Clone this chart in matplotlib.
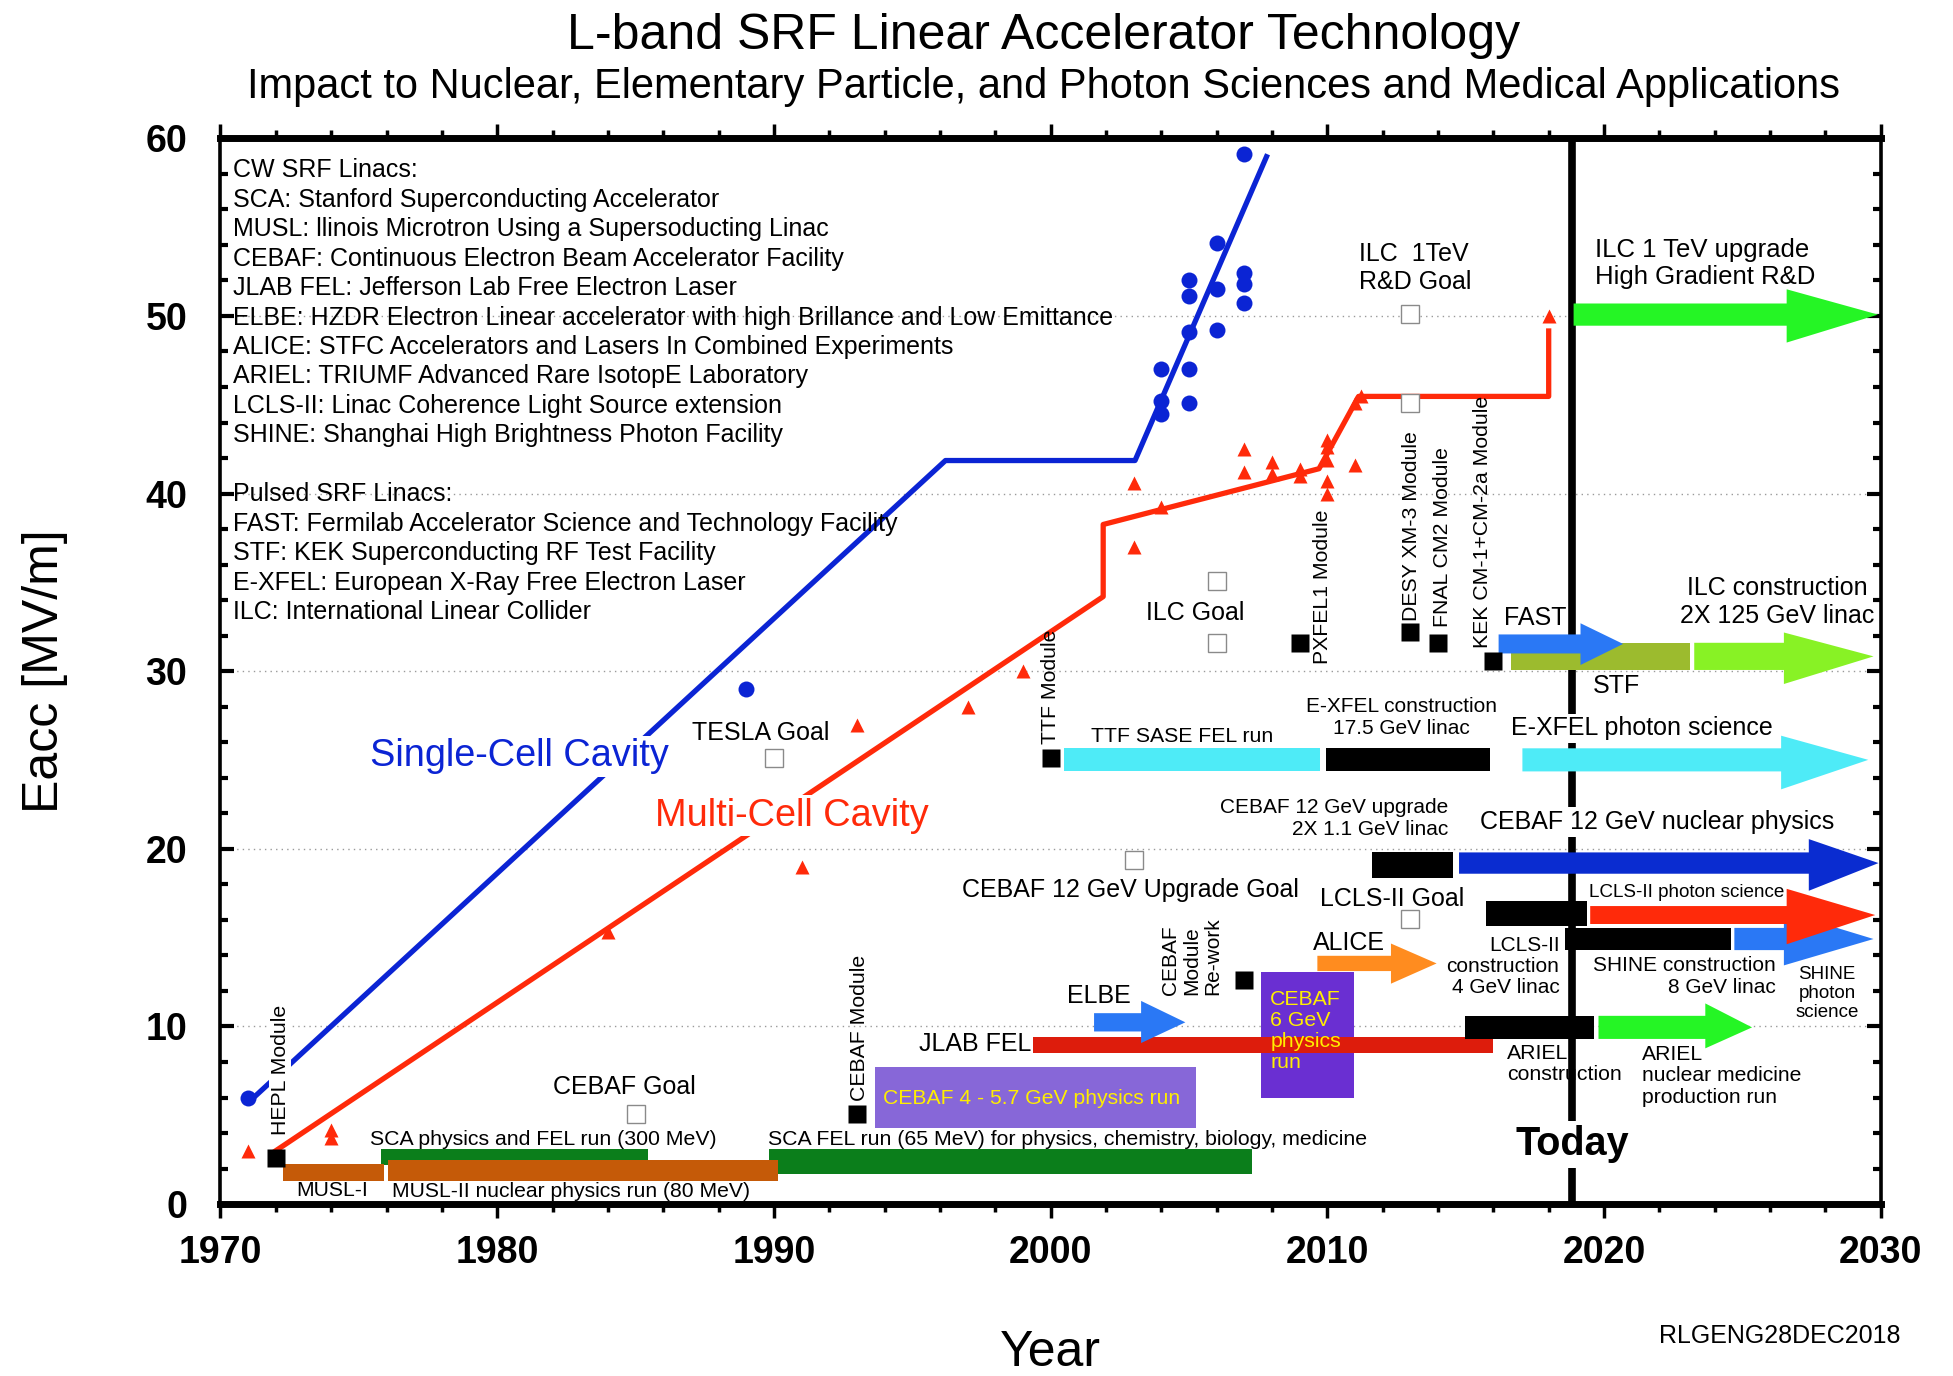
import matplotlib
matplotlib.use('Agg')
import matplotlib.pyplot as plt
from matplotlib.patches import Rectangle, Polygon
from matplotlib.ticker import MultipleLocator

plt.rcParams['font.family'] = ['Liberation Sans', 'DejaVu Sans']

# ---------------- data ----------------
single_line_x = [1971.2, 1996.2, 2003.05, 2007.84]
single_line_y = [6.0, 41.86, 41.86, 59.1]
multi_line_x = [1971.8, 2001.9, 2001.9, 2009.7, 2011.13, 2018.0, 2018.0]
multi_line_y = [2.8, 34.2, 38.26, 41.4, 45.47, 45.47, 49.3]

single_x = [1971, 1989, 2004, 2004, 2004, 2005, 2005, 2005, 2005, 2005,
            2006, 2006, 2006, 2007, 2007, 2007, 2007]
single_y = [6.0, 29.0, 44.5, 45.2, 47.0, 45.1, 47.0, 49.1, 51.1, 52.0,
            49.2, 51.5, 54.1, 50.7, 51.8, 52.4, 59.1]

multi_x = [1971, 1974, 1974, 1984, 1991, 1993, 1997, 1999, 2003, 2003, 2004,
           2007, 2007, 2008, 2008, 2009, 2009, 2010, 2010, 2010, 2010, 2010,
           2011, 2011, 2011.2, 2018]
multi_y = [3.0, 3.75, 4.2, 15.3, 19.0, 27.0, 28.0, 30.0, 37.0, 40.6, 39.25,
           41.2, 42.5, 41.1, 41.8, 41.0, 41.4, 40.0, 40.7, 41.9, 42.6, 43.0,
           41.6, 45.1, 45.5, 50.0]

module_x = [1972, 1993, 2000, 2007, 2009, 2013, 2014, 2016]
module_y = [2.6, 5.1, 25.1, 12.6, 31.6, 32.2, 31.6, 30.6]

goal_x = [1985, 1990, 2003, 2006, 2006, 2013, 2013, 2013]
goal_y = [5.1, 25.1, 19.35, 35.1, 31.6, 50.1, 45.1, 16.05]

# horizontal bars: start year, end year, low Eacc, high Eacc
bar_names = ['SCA physics', 'SCA FEL', 'MUSL-I', 'MUSL-II', 'CEBAF 4-5.7',
             'CEBAF 6', 'JLAB FEL', 'ARIEL constr', 'LCLS-II constr',
             'SHINE constr', 'CEBAF 12 constr', 'TTF SASE', 'E-XFEL constr', 'STF']
bar_start = [1975.8, 1989.83, 1972.27, 1976.07, 1993.65, 2007.6, 1999.38, 2014.97,
             2015.75, 2018.6, 2011.62, 2000.47, 2009.97, 2016.62]
bar_end = [1985.44, 2007.29, 1975.9, 1990.15, 2005.27, 2010.98, 2016.0, 2019.63,
           2019.4, 2024.6, 2014.54, 2009.75, 2015.88, 2023.11]
bar_low = [2.18, 1.7, 1.28, 1.28, 4.3, 5.95, 8.53, 9.3, 15.67, 14.3, 18.36, 24.36, 24.36, 30.07]
bar_high = [3.1, 3.1, 2.28, 2.5, 7.7, 13.08, 9.41, 10.6, 17.06, 15.55, 19.8, 25.66, 25.7, 31.6]
bar_colors = ['#0B7E1B', '#0B7E1B', '#C55A08', '#C55A08', '#8767D8', '#6A2FD2',
              '#DD1C0C', '#000000', '#000000', '#000000', '#000000', '#4EEBF7',
              '#000000', '#9CBB2E']

# arrows: start, tip, shaft low/high, head start, head low/high
arrow_names = ['ELBE', 'ALICE', 'ARIEL NM', 'SHINE photon', 'LCLS-II photon',
               'CEBAF 12 NP', 'E-XFEL photon', 'ILC construction', 'FAST', 'ILC 1TeV']
arrow_start = [2001.57, 2009.64, 2019.8, 2024.71, 2019.5, 2014.76, 2017.05, 2023.26, 2016.19, 2018.9]
arrow_tip = [2004.87, 2013.95, 2025.35, 2029.74, 2029.8, 2029.92, 2029.55, 2029.74, 2020.69, 2029.9]
arrow_low = [9.72, 13.12, 9.3, 14.3, 15.77, 18.6, 24.36, 30.07, 31.0, 49.45]
arrow_high = [10.75, 13.98, 10.6, 15.55, 16.78, 19.8, 25.66, 31.6, 32.07, 50.7]
arrow_head_x = [2003.27, 2012.3, 2023.66, 2026.5, 2026.6, 2027.4, 2026.4, 2026.5, 2019.15, 2026.6]
arrow_head_low = [9.07, 12.41, 8.77, 13.44, 14.63, 17.64, 23.35, 29.28, 30.35, 48.5]
arrow_head_high = [11.44, 14.67, 11.3, 16.46, 17.75, 20.55, 26.37, 32.18, 32.7, 51.5]
arrow_colors = ['#2A78F5', '#FF8C1F', '#25F525', '#2A78F5', '#FF2A0A', '#0A2CD0',
                '#4EEBF7', '#88F225', '#2A78F5', '#25F525']

today_year = 2018.85

legend_lines = [
    "CW SRF Linacs:",
    "SCA: Stanford Superconducting Accelerator",
    "MUSL: llinois Microtron Using a Supersoducting Linac",
    "CEBAF: Continuous Electron Beam Accelerator Facility",
    "JLAB FEL: Jefferson Lab Free Electron Laser",
    "ELBE: HZDR Electron Linear accelerator with high Brillance and Low Emittance",
    "ALICE: STFC Accelerators and Lasers In Combined Experiments",
    "ARIEL: TRIUMF Advanced Rare IsotopE Laboratory",
    "LCLS-II: Linac Coherence Light Source extension",
    "SHINE: Shanghai High Brightness Photon Facility",
    "",
    "Pulsed SRF Linacs:",
    "FAST: Fermilab Accelerator Science and Technology Facility",
    "STF: KEK Superconducting RF Test Facility",
    "E-XFEL: European X-Ray Free Electron Laser",
    "ILC: International Linear Collider",
]

# ---------------- figure ----------------
fig = plt.figure(figsize=(19.53, 13.76), dpi=100)
ax = fig.add_axes([0.1129, 0.1249, 0.8501, 0.7746])
ax.set_xlim(1970, 2030)
ax.set_ylim(0, 60)

for gy in [10, 20, 30, 40, 50]:
    ax.axhline(gy, color='#9a9a9a', lw=1.0, ls=(0, (1, 3)), zorder=0)

# today line (behind bars)
ax.axvline(today_year, color='black', lw=5.5, zorder=1.8)

# bars
for s, e, lo, hi, c in zip(bar_start, bar_end, bar_low, bar_high, bar_colors):
    ax.add_patch(Rectangle((s, lo), e - s, hi - lo, facecolor=c, edgecolor='none', zorder=2))
# arrows
for s, t, lo, hi, hx, hlo, hhi, c in zip(arrow_start, arrow_tip, arrow_low, arrow_high,
                                          arrow_head_x, arrow_head_low, arrow_head_high, arrow_colors):
    mid = (lo + hi) / 2
    pts = [(s, lo), (hx, lo), (hx, hlo), (t, mid), (hx, hhi), (hx, hi), (s, hi)]
    ax.add_patch(Polygon(pts, closed=True, facecolor=c, edgecolor='none', zorder=2.5))

# trend lines
ax.plot(single_line_x, single_line_y, color='#0B24D4', lw=3.8, zorder=3, solid_capstyle='butt')
ax.plot(multi_line_x, multi_line_y, color='#FF2A0A', lw=3.8, zorder=3, solid_capstyle='butt')
ax.plot(single_x, single_y, 'o', color='#0B24D4', ms=11.5, mec='none', zorder=4)
ax.plot(multi_x, multi_y, '^', color='#FF2A0A', ms=10, mec='none', zorder=4)
ax.plot(module_x, module_y, 's', color='black', ms=13, mec='none', zorder=4)
ax.plot(goal_x, goal_y, 's', mfc='white', mec='#8a8a8a', mew=1.0, ms=13, zorder=4)

# ---------------- texts ----------------
for i, line in enumerate(legend_lines):
    ax.text(1970.45, 58.2 - i * 1.658, line, fontsize=18, va='center', ha='left', zorder=5)

wb = dict(facecolor='white', edgecolor='none', pad=2)
ax.text(1980.8, 25.2, 'Single-Cell Cavity', color='#0B24D4', fontsize=27.3, ha='center', va='center', bbox=wb, zorder=5)
ax.text(1990.66, 21.87, 'Multi-Cell Cavity', color='#FF2A0A', fontsize=27.3, ha='center', va='center', bbox=wb, zorder=5)

fs = 18
ax.text(1989.53, 26.5, 'TESLA Goal', fontsize=fs, ha='center', va='center', zorder=5)
ax.text(1984.58, 6.59, 'CEBAF Goal', fontsize=fs, ha='center', va='center', zorder=5)
ax.text(2002.9, 17.66, 'CEBAF 12 GeV Upgrade Goal', fontsize=fs, ha='center', va='center', zorder=5)
ax.text(2005.24, 33.3, 'ILC Goal', fontsize=fs, ha='center', va='center', zorder=5)
ax.text(2011.13, 52.7, 'ILC  1TeV\nR&D Goal', fontsize=fs, ha='left', va='center', linespacing=1.25, zorder=5)
ax.text(2019.69, 52.95, 'ILC 1 TeV upgrade\nHigh Gradient R&D', fontsize=18.5, ha='left', va='center', linespacing=1.2, zorder=5)
ax.text(2026.26, 33.9, 'ILC construction\n2X 125 GeV linac', fontsize=fs, ha='center', va='center', linespacing=1.2, zorder=5)
ax.text(2016.4, 33.0, 'FAST', fontsize=fs, ha='left', va='center', zorder=5)
ax.text(2020.46, 29.16, 'STF', fontsize=fs, ha='center', va='center', zorder=5)
ax.text(2021.36, 26.78, 'E-XFEL photon science', fontsize=18, ha='center', va='center', bbox=wb, zorder=5)
ax.text(2012.67, 27.37, 'E-XFEL construction\n17.5 GeV linac', fontsize=15, ha='center', va='center', linespacing=1.2, zorder=5)
ax.text(2004.75, 26.35, 'TTF SASE FEL run', fontsize=15.3, ha='center', va='center', zorder=5)
ax.text(2014.38, 21.7, 'CEBAF 12 GeV upgrade\n2X 1.1 GeV linac', fontsize=15, ha='right', va='center',
        multialignment='right', linespacing=1.2, zorder=5)
ax.text(2015.5, 21.5, 'CEBAF 12 GeV nuclear physics', fontsize=18, ha='left', va='center', bbox=wb, zorder=5)
ax.text(2012.35, 17.17, 'LCLS-II Goal', fontsize=18, ha='center', va='center', zorder=5)
ax.text(2019.47, 17.52, 'LCLS-II photon science', fontsize=13.6, ha='left', va='center', zorder=5)
ax.text(2018.39, 13.39, 'LCLS-II\nconstruction\n4 GeV linac', fontsize=15, ha='right', va='center',
        multialignment='right', linespacing=1.15, zorder=5)
ax.text(2026.22, 12.83, 'SHINE construction\n8 GeV linac', fontsize=15, ha='right', va='center',
        multialignment='right', linespacing=1.2, zorder=5)
ax.text(2028.06, 11.85, 'SHINE\nphoton\nscience', fontsize=13.5, ha='center', va='center', linespacing=1.15, zorder=5)
ax.text(2010.78, 14.72, 'ALICE', fontsize=18, ha='center', va='center', zorder=5)
ax.text(2001.73, 11.7, 'ELBE', fontsize=18, ha='center', va='center', zorder=5)
ax.text(1999.3, 9.04, 'JLAB FEL', fontsize=18, ha='right', va='center', zorder=5)
ax.text(2007.94, 9.74, 'CEBAF\n6 GeV\nphysics\nrun', fontsize=15.3, color='#FFEE00', ha='left', va='center',
        linespacing=1.15, zorder=5)
ax.text(1993.95, 5.96, 'CEBAF 4 - 5.7 GeV physics run', fontsize=15.2, color='#FFEE00', ha='left', va='center', zorder=5)
ax.text(2016.5, 7.89, 'ARIEL\nconstruction', fontsize=15.3, ha='left', va='center', linespacing=1.15, zorder=5)
ax.text(2021.36, 7.22, 'ARIEL\nnuclear medicine\nproduction run', fontsize=15.2, ha='left', va='center',
        linespacing=1.15, zorder=5)
ax.text(1975.4, 3.64, 'SCA physics and FEL run (300 MeV)', fontsize=15.3, ha='left', va='center', zorder=5)
ax.text(1989.8, 3.64, 'SCA FEL run (65 MeV) for physics, chemistry, biology, medicine', fontsize=15.3,
        ha='left', va='center', zorder=5)
ax.text(1972.75, 0.75, 'MUSL-I', fontsize=15.2, ha='left', va='center', zorder=5)
ax.text(1976.2, 0.7, 'MUSL-II nuclear physics run (80 MeV)', fontsize=15.2, ha='left', va='center', zorder=5)
ax.text(today_year, 3.36, 'Today', fontsize=28.5, fontweight='bold', ha='center', va='center',
        bbox=dict(facecolor='white', edgecolor='none', pad=3), zorder=6)

# rotated module labels
rot = dict(rotation=90, ha='center', va='bottom', fontsize=15.3, zorder=5)
ax.text(1972.16, 3.9, 'HEPL Module', bbox=dict(facecolor='white', edgecolor='none', pad=1), **rot)
ax.text(1993.09, 5.8, 'CEBAF Module', **rot)
ax.text(1999.98, 25.9, 'TTF Module', **rot)
ax.text(2009.83, 30.4, 'PXFEL1 Module', **rot)
ax.text(2013.03, 32.8, 'DESY XM-3 Module', **rot)
ax.text(2014.16, 32.5, 'FNAL CM2 Module', **rot)
ax.text(2015.6, 31.3, 'KEK CM-1+CM-2a Module', **rot)
ax.text(2005.1, 11.8, 'CEBAF\nModule\nRe-work', rotation=90, ha='center', va='bottom', fontsize=15,
        multialignment='left', linespacing=1.15, zorder=5)

# ---------------- axes styling ----------------
ax.xaxis.set_major_locator(MultipleLocator(10))
ax.xaxis.set_minor_locator(MultipleLocator(2))
ax.yaxis.set_major_locator(MultipleLocator(10))
ax.yaxis.set_minor_locator(MultipleLocator(2))
ax.tick_params(axis='x', which='both', direction='out', top=True, bottom=True, width=2.5)
ax.tick_params(axis='x', which='major', length=10, pad=12, labelsize=27)
ax.tick_params(axis='x', which='minor', length=6)
ax.tick_params(axis='y', which='both', direction='in', left=True, right=True, width=3)
ax.tick_params(axis='y', which='major', length=10, pad=24, labelsize=27)
ax.tick_params(axis='y', which='minor', length=6)
for lab in ax.get_xticklabels() + ax.get_yticklabels():
    lab.set_fontweight('bold')
ax.spines['top'].set_linewidth(5)
ax.spines['bottom'].set_linewidth(5)
ax.spines['left'].set_linewidth(2.6)
ax.spines['right'].set_linewidth(2.6)

ax.set_xlabel('Year', fontsize=36, labelpad=43)
ax.set_ylabel('Eacc [MV/m]', fontsize=36, labelpad=56)

fig.text(0.5345, 0.974, 'L-band SRF Linear Accelerator Technology', fontsize=36, ha='center', va='center')
fig.text(0.5345, 0.937, 'Impact to Nuclear, Elementary Particle, and Photon Sciences and Medical Applications',
         fontsize=30, ha='center', va='center')
fig.text(0.973, 0.029, 'RLGENG28DEC2018', fontsize=18, ha='right', va='center')

fig.savefig('out.png', dpi=100)
